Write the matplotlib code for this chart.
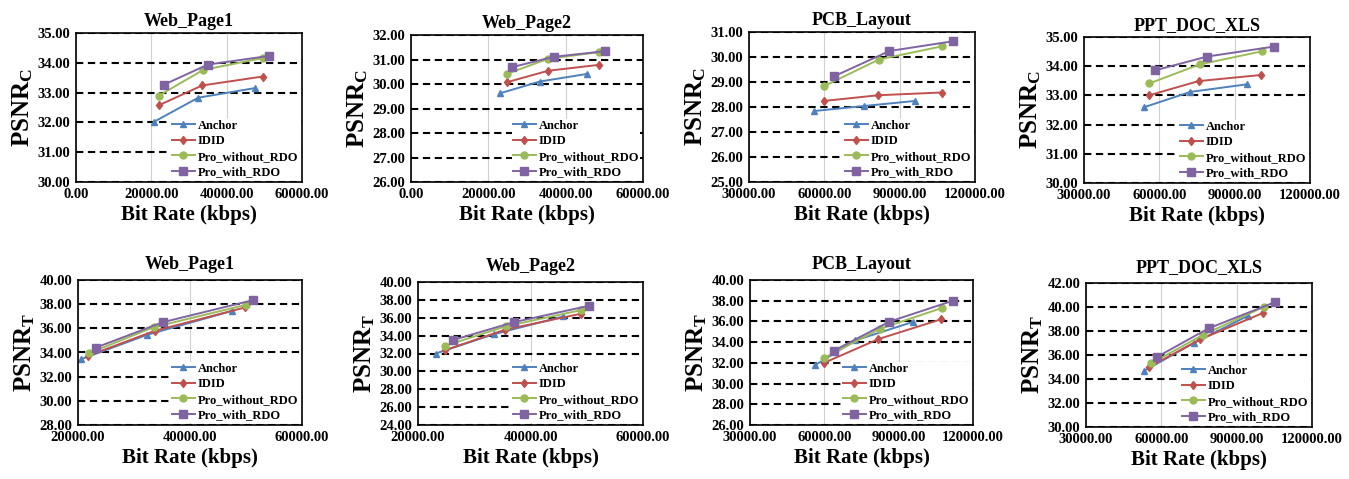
import matplotlib
matplotlib.use("Agg")
import matplotlib.pyplot as plt
from matplotlib.ticker import FormatStrFormatter, MultipleLocator

plt.rcParams['font.family'] = ['Liberation Serif', 'DejaVu Serif']
plt.rcParams['font.weight'] = 'bold'
plt.rcParams['mathtext.fontset'] = 'custom'
plt.rcParams['mathtext.rm'] = 'Liberation Serif:bold'
plt.rcParams['mathtext.bf'] = 'Liberation Serif:bold'
plt.rcParams['mathtext.it'] = 'Liberation Serif:bold'

SERIES = ["Anchor", "IDID", "Pro_without_RDO", "Pro_with_RDO"]
TITLES = ["Web_Page1", "Web_Page2", "PCB_Layout", "PPT_DOC_XLS"]

# ---- top row: PSNR_C ----
WP1_C_RATE = [[20700, 32460, 47440], [21930, 33500, 49600], [22020, 33760, 49600], [23240, 35000, 51180]]
WP1_C_PSNR = [[32.02, 32.83, 33.15], [32.57, 33.24, 33.54], [32.90, 33.76, 34.16], [33.26, 33.94, 34.23]]
WP2_C_RATE = [[23000, 33300, 45480], [24740, 35450, 48500], [24740, 35450, 48580], [26190, 36930, 50240]]
WP2_C_PSNR = [[29.62, 30.10, 30.41], [30.07, 30.54, 30.78], [30.41, 31.03, 31.30], [30.69, 31.11, 31.34]]
PCB_C_RATE = [[56050, 75790, 95920], [59720, 81430, 106700], [60000, 81710, 106970], [63950, 85930, 111300]]
PCB_C_PSNR = [[27.84, 28.04, 28.24], [28.24, 28.47, 28.58], [28.84, 29.90, 30.43], [29.23, 30.24, 30.63]]
PPT_C_RATE = [[53740, 72340, 94940], [55740, 75660, 100630], [56010, 76060, 100900], [58400, 79000, 105540]]
PPT_C_PSNR = [[32.59, 33.12, 33.38], [33.00, 33.49, 33.70], [33.41, 34.06, 34.51], [33.86, 34.33, 34.67]]

# ---- bottom row: PSNR_T ----
WP1_T_RATE = [[20600, 32240, 47580], [21800, 33730, 49850], [21970, 33550, 50030], [23160, 35100, 51220]]
WP1_T_PSNR = [[33.45, 35.45, 37.45], [33.73, 35.80, 37.73], [33.95, 36.10, 37.95], [34.40, 36.50, 38.33]]
WP2_T_RATE = [[23160, 33430, 45850], [24780, 35520, 48960], [24780, 35640, 48960], [26150, 37010, 50450]]
WP2_T_PSNR = [[32.00, 34.15, 36.15], [32.37, 34.67, 36.45], [32.85, 35.05, 36.85], [33.49, 35.50, 37.35]]
PCB_T_RATE = [[56270, 72430, 95600], [59900, 81860, 107050], [59900, 82270, 107460], [63950, 86170, 111900]]
PCB_T_PSNR = [[31.78, 34.16, 35.94], [32.00, 34.30, 36.20], [32.48, 35.27, 37.30], [33.19, 35.97, 38.00]]
PPT_T_RATE = [[53260, 73000, 94330], [55130, 75460, 100460], [55930, 76500, 100730], [58190, 78800, 105400]]
PPT_T_PSNR = [[34.70, 37.00, 39.25], [35.00, 37.30, 39.50], [35.30, 37.67, 40.00], [35.83, 38.22, 40.42]]

TOP_RATES = [WP1_C_RATE, WP2_C_RATE, PCB_C_RATE, PPT_C_RATE]
TOP_PSNRS = [WP1_C_PSNR, WP2_C_PSNR, PCB_C_PSNR, PPT_C_PSNR]
BOT_RATES = [WP1_T_RATE, WP2_T_RATE, PCB_T_RATE, PPT_T_RATE]
BOT_PSNRS = [WP1_T_PSNR, WP2_T_PSNR, PCB_T_PSNR, PPT_T_PSNR]

TOP_XLIM = [(0, 60000, 20000), (0, 60000, 20000), (30000, 120000, 30000), (30000, 120000, 30000)]
TOP_YLIM = [(30, 35, 1), (26, 32, 1), (25, 31, 1), (30, 35, 1)]
BOT_XLIM = [(20000, 60000, 20000), (20000, 60000, 20000), (30000, 120000, 30000), (30000, 120000, 30000)]
BOT_YLIM = [(28, 40, 2), (24, 40, 2), (26, 40, 2), (30, 42, 2)]

COLORS = ["#4F81BD", "#C0504D", "#9BBB59", "#8064A2"]
MARKERS = ["^", "d", "o", "s"]
MSIZES = [5, 4.5, 5, 5.5]

W, H = 1349, 479
# axes boxes in pixels: left, right, top, bottom
TOP_BOX = [(76, 302, 33, 182), (411, 643, 35, 182), (749, 975, 32, 182), (1084, 1310, 37, 183)]
BOT_BOX = [(78, 302, 280, 425), (418, 643, 282, 425), (750, 973, 280, 425), (1086, 1312, 283, 427)]

fig = plt.figure(figsize=(W / 100, H / 100), dpi=100)


def draw(box, rates, psnrs, xl, yl, title, ylabel, tpad):
    l, r, t, b = box
    ax = fig.add_axes([l / W, 1 - b / H, (r - l) / W, (b - t) / H])
    for i, name in enumerate(SERIES):
        ax.plot(rates[i], psnrs[i], color=COLORS[i], marker=MARKERS[i], markersize=MSIZES[i],
                linewidth=1.4, label=name, zorder=3)
    ax.set_xlim(xl[0], xl[1])
    ax.set_ylim(yl[0], yl[1])
    ax.xaxis.set_major_locator(MultipleLocator(xl[2]))
    ax.yaxis.set_major_locator(MultipleLocator(yl[2]))
    ax.xaxis.set_major_formatter(FormatStrFormatter('%.2f'))
    ax.yaxis.set_major_formatter(FormatStrFormatter('%.2f'))
    ax.tick_params(axis='both', length=0, labelsize=10.5, pad=4)
    for lab in ax.get_xticklabels() + ax.get_yticklabels():
        lab.set_fontweight('bold')
    ax.grid(axis='x', color='#d0d0d0', linewidth=0.8, zorder=0)
    ax.grid(axis='y', color='black', linewidth=1.5, linestyle=(0, (3.5, 2.2)), zorder=1)
    for s in ax.spines.values():
        s.set_linewidth(1.2)
        s.set_color('black')
        s.set_zorder(4)
    ax.set_title(title, fontsize=13, fontweight='bold', pad=tpad)
    ax.set_xlabel('Bit Rate (kbps)', fontsize=15, fontweight='bold', labelpad=3)
    ax.set_ylabel(ylabel, fontsize=18, fontweight='bold', labelpad=2)
    leg = ax.legend(loc='lower right', frameon=True, fancybox=False,
                    borderaxespad=0.2, labelspacing=0.28, handlelength=1.8,
                    handletextpad=0.25, borderpad=0.1, prop={'weight': 'bold', 'size': 9})
    leg.get_frame().set_facecolor('white')
    leg.get_frame().set_edgecolor('none')
    leg.get_frame().set_alpha(1.0)
    leg.set_zorder(5)
    return ax


for k in range(4):
    draw(TOP_BOX[k], TOP_RATES[k], TOP_PSNRS[k], TOP_XLIM[k], TOP_YLIM[k], TITLES[k],
         r'$\mathrm{PSNR}_{\mathrm{C}}$', 5)
    draw(BOT_BOX[k], BOT_RATES[k], BOT_PSNRS[k], BOT_XLIM[k], BOT_YLIM[k], TITLES[k],
         r'$\mathrm{PSNR}_{\mathrm{T}}$', 8)

fig.savefig('out.png', dpi=100, facecolor='white')
